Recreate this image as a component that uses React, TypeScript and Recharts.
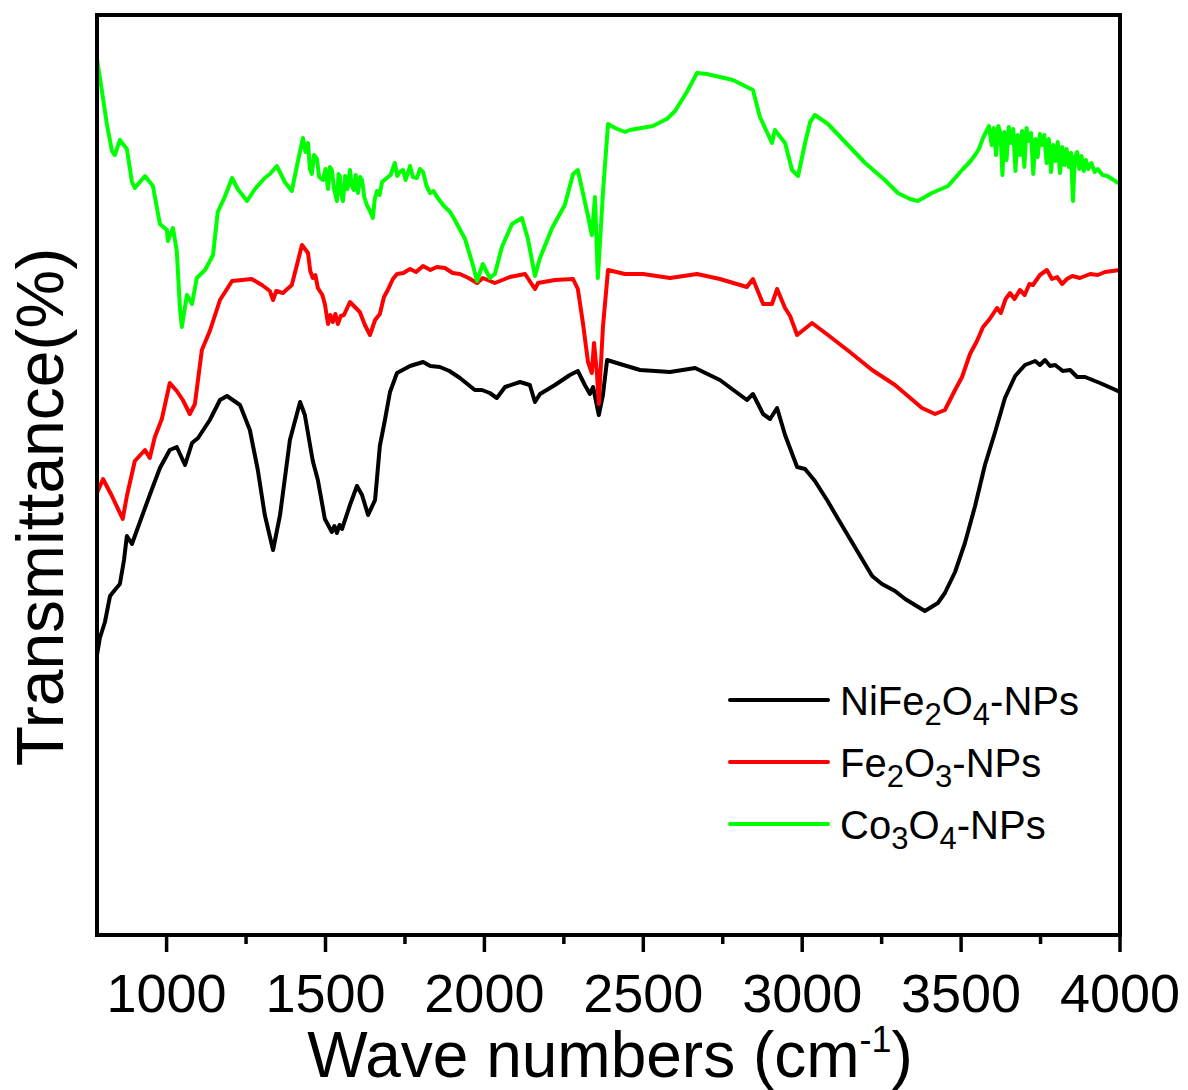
import React from 'react';
import { LineChart, Line, XAxis, YAxis, Legend, ReferenceLine } from 'recharts';

const FONT = '"Liberation Sans", Arial, Helvetica, sans-serif';

const majorTicks = [1000, 1500, 2000, 2500, 3000, 3500, 4000];
const minorTicks = [1250, 1750, 2250, 2750, 3250, 3750];
const xDomain: [number, number] = [781, 4000];
const yDomain: [number, number] = [0, 92];

// [wavenumber (cm-1), transmittance (arb.)]
const niFe2O4: [number, number][] = [
  [781, 28.0], [790, 29.7], [806, 31.3], [822, 33.9], [837, 34.5], [853, 35.1], [866, 37.5], [875, 39.9],
  [891, 39.1], [916, 41.3], [947, 44.0], [979, 46.7], [1010, 48.5], [1032, 48.8], [1058, 47.0], [1080, 49.2],
  [1099, 49.7], [1136, 51.5], [1168, 53.5], [1190, 53.9], [1231, 53.0], [1262, 50.5], [1287, 46.5], [1309, 42.0],
  [1335, 38.5], [1357, 42.0], [1388, 49.5], [1420, 53.3], [1435, 52.0], [1460, 47.4], [1476, 45.5], [1498, 41.6],
  [1520, 40.3], [1528, 40.9], [1536, 40.2], [1544, 41.0], [1552, 40.6], [1577, 43.0], [1599, 44.9], [1615, 44.0],
  [1634, 42.0], [1656, 43.5], [1671, 48.9], [1687, 51.5], [1703, 54.3], [1725, 56.2], [1766, 56.9], [1807, 57.3],
  [1830, 56.9], [1860, 56.8], [1890, 56.4], [1923, 55.7], [1970, 54.5], [1992, 54.5], [2017, 54.2], [2039, 53.7],
  [2065, 54.8], [2112, 55.3], [2143, 55.0], [2159, 53.3], [2175, 54.1], [2222, 55.0], [2269, 56.0], [2294, 56.4],
  [2316, 55.0], [2332, 54.1], [2342, 54.8], [2360, 52.0], [2373, 54.0], [2386, 57.5], [2427, 57.1], [2490, 56.5],
  [2584, 56.3], [2663, 56.7], [2741, 55.5], [2826, 53.5], [2845, 54.1], [2877, 52.1], [2899, 51.6], [2921, 52.7],
  [2946, 50.0], [2984, 46.8], [3009, 46.6], [3040, 45.4], [3080, 43.4], [3113, 41.6], [3160, 39.1], [3220, 35.9],
  [3251, 35.1], [3292, 34.4], [3324, 33.6], [3360, 32.9], [3386, 32.4], [3427, 33.2], [3449, 34.2], [3481, 36.3],
  [3512, 39.2], [3544, 42.9], [3575, 47.0], [3607, 50.3], [3638, 53.7], [3670, 55.9], [3701, 57.0], [3733, 57.4],
  [3748, 57.0], [3764, 57.5], [3780, 56.9], [3796, 57.0], [3820, 56.4], [3843, 56.5], [3865, 55.8], [3890, 55.8],
  [3937, 55.2], [4000, 54.3],
];

const fe2O3: [number, number][] = [
  [781, 44.2], [800, 45.6], [828, 43.9], [862, 41.6], [875, 43.9], [900, 47.4], [932, 48.5], [947, 47.7],
  [963, 49.8], [985, 51.6], [1010, 55.2], [1032, 54.4], [1051, 53.5], [1073, 52.1], [1089, 53.1], [1111, 58.5],
  [1136, 60.4], [1168, 63.5], [1206, 65.4], [1268, 65.6], [1300, 65.0], [1325, 64.4], [1335, 63.5], [1345, 64.4],
  [1366, 64.2], [1394, 65.0], [1426, 69.0], [1445, 68.2], [1452, 66.4], [1460, 65.7], [1468, 66.0], [1476, 64.7],
  [1490, 64.0], [1498, 63.1], [1508, 61.1], [1515, 62.0], [1523, 61.3], [1531, 62.1], [1539, 61.1], [1548, 61.9],
  [1558, 62.0], [1577, 63.3], [1608, 62.3], [1624, 61.0], [1640, 60.0], [1656, 61.5], [1671, 62.1], [1684, 63.8],
  [1696, 64.5], [1712, 65.6], [1725, 66.1], [1745, 66.2], [1766, 66.6], [1785, 66.3], [1807, 66.9], [1830, 66.5],
  [1850, 66.8], [1876, 66.7], [1900, 66.2], [1923, 66.1], [1950, 65.7], [1977, 65.2], [1995, 65.7], [2033, 65.2],
  [2080, 65.8], [2128, 66.1], [2159, 64.6], [2169, 65.2], [2222, 65.5], [2279, 65.6], [2294, 64.6], [2310, 61.2],
  [2326, 57.3], [2338, 56.2], [2345, 59.2], [2354, 56.2], [2360, 53.1], [2373, 60.8], [2389, 66.5], [2442, 66.1],
  [2499, 66.1], [2584, 65.7], [2669, 66.1], [2741, 65.6], [2826, 64.8], [2845, 65.6], [2877, 63.1], [2905, 63.1],
  [2921, 64.6], [2946, 62.7], [2962, 61.9], [2984, 60.0], [3031, 61.2], [3081, 60.0], [3150, 58.3], [3220, 56.5],
  [3292, 55.0], [3377, 52.7], [3418, 52.1], [3449, 52.5], [3481, 54.5], [3503, 55.8], [3528, 58.1], [3550, 59.4],
  [3569, 60.8], [3590, 61.6], [3613, 62.7], [3625, 62.2], [3640, 63.6], [3654, 64.2], [3668, 63.6], [3685, 64.5],
  [3700, 64.0], [3715, 65.1], [3726, 65.0], [3748, 66.0], [3770, 66.5], [3786, 65.6], [3802, 65.8], [3818, 65.1],
  [3833, 65.6], [3850, 65.9], [3874, 65.7], [3906, 66.1], [3930, 66.0], [3953, 66.3], [4000, 66.5],
];

const co3O4: [number, number][] = [
  [781, 87.6], [796, 84.5], [812, 81.1], [828, 78.4], [837, 78.0], [853, 79.5], [875, 78.6], [891, 75.3],
  [900, 74.7], [932, 75.9], [957, 74.9], [979, 71.1], [1001, 70.5], [1004, 69.4], [1020, 70.7], [1032, 68.4],
  [1042, 62.7], [1048, 60.8], [1064, 64.0], [1080, 63.1], [1095, 65.7], [1121, 66.5], [1146, 68.0], [1161, 72.3],
  [1183, 73.8], [1206, 75.7], [1224, 74.6], [1253, 73.4], [1278, 74.6], [1309, 75.7], [1325, 76.1], [1347, 76.9],
  [1372, 75.3], [1394, 74.4], [1410, 76.9], [1429, 79.7], [1437, 78.3], [1445, 79.2], [1451, 76.6], [1457, 76.1],
  [1464, 78.0], [1473, 77.6], [1480, 75.8], [1492, 75.5], [1500, 76.6], [1508, 74.6], [1514, 76.8], [1520, 76.5],
  [1527, 74.6], [1536, 73.4], [1541, 76.1], [1545, 75.9], [1550, 74.0], [1555, 73.4], [1562, 75.9], [1569, 74.6],
  [1577, 76.5], [1583, 74.9], [1589, 74.5], [1595, 76.0], [1602, 74.2], [1609, 75.8], [1615, 75.5], [1622, 73.8],
  [1630, 73.0], [1640, 72.4], [1649, 71.7], [1655, 73.6], [1662, 74.4], [1670, 74.0], [1678, 75.3], [1693, 75.7],
  [1705, 76.0], [1718, 77.2], [1726, 75.9], [1734, 76.3], [1744, 76.5], [1752, 75.5], [1766, 76.9], [1775, 75.8],
  [1788, 75.7], [1797, 76.6], [1807, 76.3], [1818, 74.9], [1829, 74.2], [1840, 74.4], [1851, 73.8], [1870, 73.0],
  [1892, 72.3], [1907, 71.5], [1939, 69.6], [1961, 67.3], [1977, 65.4], [1995, 67.1], [2017, 65.7], [2033, 66.1],
  [2055, 68.8], [2087, 71.1], [2118, 71.7], [2137, 69.6], [2159, 65.9], [2175, 67.7], [2213, 70.7], [2253, 73.0],
  [2279, 76.1], [2294, 76.5], [2310, 74.2], [2326, 71.9], [2338, 70.0], [2348, 73.8], [2357, 65.7], [2373, 74.2],
  [2389, 81.1], [2411, 80.7], [2442, 80.3], [2458, 80.5], [2530, 80.9], [2574, 81.6], [2600, 82.4], [2637, 84.3],
  [2669, 86.2], [2700, 86.1], [2782, 85.5], [2845, 84.5], [2867, 81.8], [2889, 80.3], [2905, 79.2], [2914, 80.5],
  [2946, 79.2], [2968, 76.5], [2987, 75.9], [3009, 79.2], [3025, 81.3], [3040, 82.0], [3081, 81.1], [3135, 79.3],
  [3198, 77.2], [3260, 75.5], [3301, 74.2], [3339, 73.6], [3364, 73.4], [3408, 74.2], [3459, 74.9], [3503, 76.5],
  [3530, 77.4], [3544, 78.0], [3556, 78.6], [3569, 79.7], [3580, 80.4], [3588, 80.9], [3596, 79.0], [3603, 80.7],
  [3610, 78.0], [3617, 80.9], [3624, 80.2], [3630, 76.0], [3636, 80.3], [3643, 77.5], [3650, 80.8], [3657, 79.2],
  [3664, 80.6], [3671, 76.4], [3678, 80.0], [3685, 78.0], [3692, 80.4], [3699, 76.8], [3706, 80.7], [3713, 79.4],
  [3720, 80.2], [3727, 76.1], [3734, 79.6], [3741, 77.8], [3748, 80.1], [3755, 79.0], [3762, 80.0], [3769, 77.2],
  [3776, 79.6], [3783, 76.3], [3790, 79.0], [3797, 77.4], [3804, 79.3], [3811, 76.2], [3818, 78.8], [3825, 77.0],
  [3832, 78.6], [3839, 76.8], [3846, 78.2], [3852, 73.4], [3858, 77.8], [3865, 78.3], [3872, 76.6], [3879, 77.9],
  [3886, 76.4], [3893, 77.5], [3900, 76.6], [3910, 77.2], [3920, 76.3], [3930, 76.6], [3945, 76.0], [3960, 75.9],
  [3975, 75.6], [4000, 75.1],
];

type Part = { t: string; sub?: boolean };
const series: { name: string; color: string; values: [number, number][]; label: Part[] }[] = [
  {
    name: 'NiFe2O4-NPs', color: '#000000', values: niFe2O4,
    label: [{ t: 'NiFe' }, { t: '2', sub: true }, { t: 'O' }, { t: '4', sub: true }, { t: '-NPs' }],
  },
  {
    name: 'Fe2O3-NPs', color: '#ff0000', values: fe2O3,
    label: [{ t: 'Fe' }, { t: '2', sub: true }, { t: 'O' }, { t: '3', sub: true }, { t: '-NPs' }],
  },
  {
    name: 'Co3O4-NPs', color: '#00ff00', values: co3O4,
    label: [{ t: 'Co' }, { t: '3', sub: true }, { t: 'O' }, { t: '4', sub: true }, { t: '-NPs' }],
  },
];

const toPoints = (arr: [number, number][]) => arr.map(([w, t]) => ({ w, t }));

const allTicks = [...majorTicks, ...minorTicks].sort((a, b) => a - b);

const XTick = (props: any) => {
  const { x, y, payload } = props;
  const major = majorTicks.includes(payload.value);
  return (
    <g>
      <line x1={x} y1={y} x2={x} y2={y + (major ? 17 : 9)} stroke="#000" strokeWidth={3.5} />
      {major && (
        <text x={x} y={y + 77} textAnchor="middle" fontSize={54} fontFamily={FONT} fill="#000">
          {payload.value}
        </text>
      )}
    </g>
  );
};

const SUB = 10;
const LegendBox = () => (
  <svg width={420} height={180} style={{ overflow: 'visible' }}>
    {series.map((s, i) => {
      const ly = 30 + i * 62;
      let shifted = false;
      return (
        <g key={s.name}>
          <line x1={10} y1={ly} x2={108} y2={ly} stroke={s.color} strokeWidth={4} strokeLinecap="round" />
          <text x={120} y={ly + 15} fontSize={40} fontFamily={FONT} fill="#000">
            {s.label.map((p, j) => {
              let dy = 0;
              if (p.sub && !shifted) { dy = SUB; shifted = true; }
              else if (!p.sub && shifted) { dy = -SUB; shifted = false; }
              return (
                <tspan key={j} dy={dy} fontSize={p.sub ? 31 : 40}>{p.t}</tspan>
              );
            })}
          </text>
        </g>
      );
    })}
  </svg>
);

const frame = { stroke: '#000', strokeWidth: 4, strokeLinecap: 'square' as const };

export default function App() {
  return (
    <div style={{ position: 'absolute', left: 0, top: 0, width: 1188, height: 1090, background: '#fff' }}>
      <LineChart width={1188} height={1090} margin={{ top: 15, right: 68, bottom: 95, left: 97 }}>
        <XAxis
          dataKey="w"
          type="number"
          domain={xDomain}
          allowDataOverflow
          ticks={allTicks}
          interval={0}
          tickSize={0}
          tickMargin={0}
          tickLine={false}
          tick={<XTick />}
          axisLine={frame}
          height={60}
        />
        <YAxis type="number" domain={yDomain} allowDataOverflow hide width={0} />
        {series.map((s) => (
          <Line
            key={s.name}
            name={s.name}
            data={toPoints(s.values)}
            dataKey="t"
            type="linear"
            stroke={s.color}
            strokeWidth={4}
            strokeLinejoin="round"
            dot={false}
            activeDot={false}
            isAnimationActive={false}
          />
        ))}
        <ReferenceLine x={xDomain[0]} {...frame} />
        <ReferenceLine x={xDomain[1]} {...frame} />
        <ReferenceLine y={yDomain[1]} {...frame} />
        <Legend
          layout="vertical"
          align="center"
          verticalAlign="middle"
          wrapperStyle={{ position: 'absolute', left: 720, top: 670, width: 420, height: 180 }}
          content={() => <LegendBox />}
        />
      </LineChart>
      <svg width={1188} height={1090} style={{ position: 'absolute', left: 0, top: 0, pointerEvents: 'none' }}>
        <text x={610} y={1077} textAnchor="middle" fontSize={64} fontFamily={FONT} fill="#000">
          Wave numbers (cm
          <tspan dy={-25} fontSize={36}>-1</tspan>
          <tspan dy={25} fontSize={64}>)</tspan>
        </text>
        <text transform="translate(63, 507) rotate(-90)" textAnchor="middle" fontSize={66} fontFamily={FONT} fill="#000">
          Transmittance(%)
        </text>
      </svg>
    </div>
  );
}
